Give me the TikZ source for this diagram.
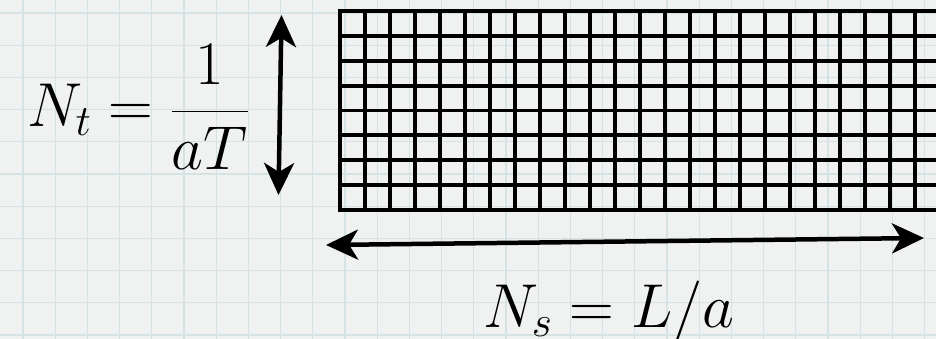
\documentclass[tikz,border=0pt]{standalone}
\usepackage{fix-cm}
\usepackage{amsmath}
\usetikzlibrary{arrows.meta}
\definecolor{paper}{HTML}{F0F2F2}
\definecolor{paperline}{HTML}{D6E3E5}
\tikzset{
  paperrule/.style={draw=paperline, line width=1.3pt},
  lattline/.style={draw=black, line width=3.8pt},
  bigarrow/.style={draw=black, line width=4.5pt, {Stealth[length=32pt,width=30pt,inset=9pt]}-{Stealth[length=32pt,width=30pt,inset=9pt]}},
  eqlabel/.style={inner sep=0pt, font=\fontsize{62}{74}\selectfont}
}
\begin{document}
\begin{tikzpicture}[x=1pt,y=-1pt]
  \useasboundingbox (0,0) rectangle (936,339);
  \fill[paper] (0,0) rectangle (936,339);
  % graph-paper background
  \foreach \k in {0,...,28} \draw[paperrule] (23+32.2*\k,0) -- (23+32.2*\k,339);
  \foreach \k in {0,...,10} \draw[paperrule] (0,13+32.2*\k) -- (936,13+32.2*\k);
  % lattice
  \begin{scope}
    \clip (0,0) rectangle (936,339);
    \foreach \i in {0,...,24} \draw[lattline] (340+25*\i,11) -- (340+25*\i,210);
    \foreach \j in {0,...,8} \draw[lattline] (338.1,11+24.875*\j) -- (945,11+24.875*\j);
  \end{scope}
  % arrows
  \coordinate (vtop) at (281.5,15);
  \coordinate (vbot) at (278.5,195);
  \coordinate (hleft) at (326,245);
  \coordinate (hright) at (924,238);
  \draw[bigarrow] (vtop) -- (vbot);
  \draw[bigarrow] (hleft) -- (hright);
  % labels
  \node[eqlabel] (nt) at (138,107) {$N_t = \dfrac{1}{aT}$};
  \node[eqlabel, anchor=base] (ns) at (609,327) {$N_s = L/a$};
\end{tikzpicture}
\end{document}
